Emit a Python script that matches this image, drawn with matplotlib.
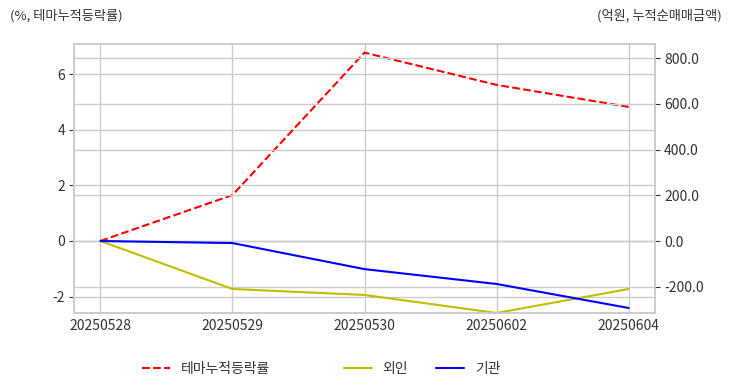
import matplotlib
matplotlib.use("Agg")
import matplotlib.pyplot as plt
import seaborn as sns

sns.set_style("whitegrid")
plt.rcParams['font.family'] = ['Noto Sans CJK KR', 'DejaVu Sans']
plt.rcParams['axes.unicode_minus'] = False

dates = ["20250528", "20250529", "20250530", "20250602", "20250604"]
theme_pct = [0.0, 1.65, 6.77, 5.61, 4.82]
foreign = [0.0, -210.0, -236.0, -315.0, -210.0]
institution = [0.0, -9.0, -123.0, -188.0, -293.0]

fig = plt.figure(figsize=(7.32, 3.92), dpi=100)
ax1 = fig.add_axes([74/732, 1-313/392, (655-74)/732, (313-44)/392])
ax2 = ax1.twinx()

x = list(range(len(dates)))
l1, = ax1.plot(x, theme_pct, color='r', linestyle='--', linewidth=1.5, label='테마누적등락률')
l2, = ax2.plot(x, foreign, color='y', linewidth=1.5, label='외인')
l3, = ax2.plot(x, institution, color='b', linewidth=1.5, label='기관')

ax1.set_xlim(-0.2, 4.2)
ax1.set_xticks(x)
ax1.set_xticklabels(dates)
ax1.set_ylim(-2.59, 7.08)
ax1.set_yticks([-2, 0, 2, 4, 6])
ax2.set_ylim(-315, 862)
ax2.set_yticks([-200, 0, 200, 400, 600, 800])
ax2.set_yticklabels([f"{v:.1f}" for v in [-200, 0, 200, 400, 600, 800]])

for ax in (ax1, ax2):
    ax.tick_params(labelsize=10, colors='#333333', pad=3)
    for s in ax.spines.values():
        s.set_color('#cccccc')
        s.set_linewidth(1.2)
    ax.grid(True, color='#cccccc', linewidth=1)
ax1.tick_params(axis='x', pad=0.5)
ax1.set_axisbelow(True)

fig.text(10/732, 1-16/392, '(%, 테마누적등락률)', ha='left', va='center', fontsize=9.5, color='#333333')
fig.text(722/732, 1-16/392, '(억원, 누적순매매금액)', ha='right', va='center', fontsize=9.5, color='#333333')

lg1 = fig.legend(handles=[l1], loc='center', bbox_to_anchor=(206/732, 1-369/392), frameon=False, fontsize=10)
lg2 = fig.legend(handles=[l2, l3], loc='center', bbox_to_anchor=(422/732, 1-369/392), ncol=2, frameon=False, fontsize=10)
for lg in (lg1, lg2):
    for t in lg.get_texts():
        t.set_color('#333333')

fig.savefig('out.png', dpi=100)
